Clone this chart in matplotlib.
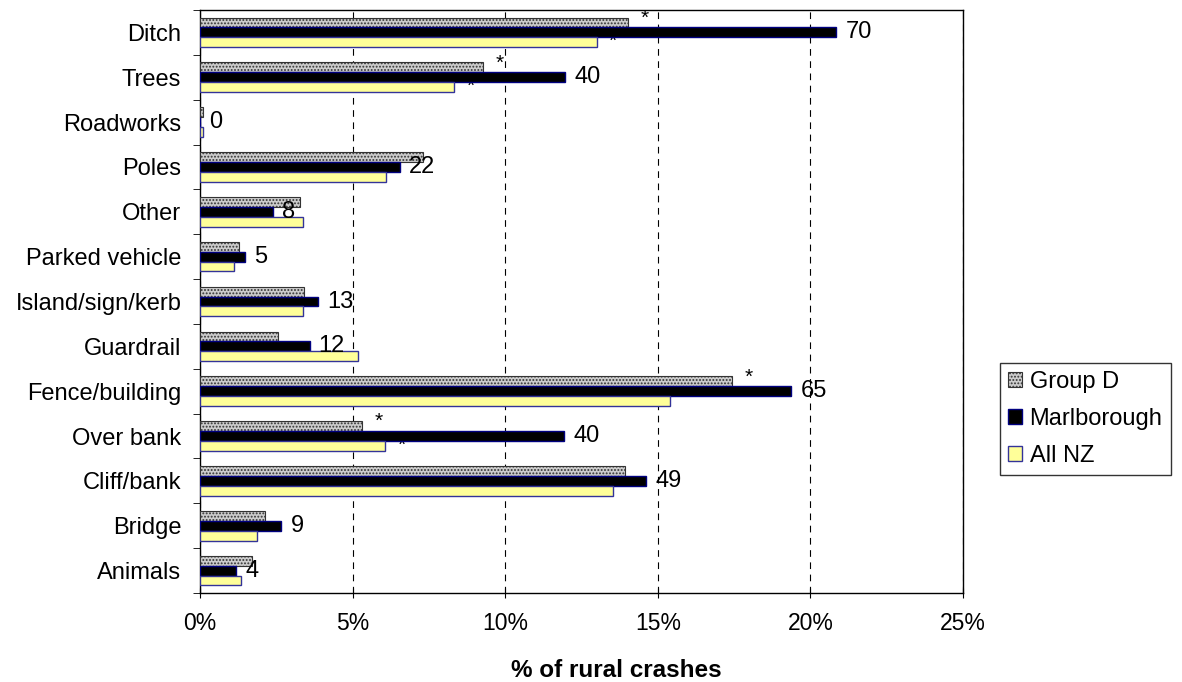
import numpy as np
import matplotlib
matplotlib.use('Agg')
from matplotlib import pyplot as plt
from matplotlib.ticker import FuncFormatter, MultipleLocator

plt.rcParams['font.family'] = ['Liberation Sans', 'DejaVu Sans']
plt.rcParams['hatch.color'] = '#555555'
plt.rcParams['hatch.linewidth'] = 0.9

# categories, top to bottom
categories = ['Ditch', 'Trees', 'Roadworks', 'Poles', 'Other', 'Parked vehicle',
              'Island/sign/kerb', 'Guardrail', 'Fence/building', 'Over bank',
              'Cliff/bank', 'Bridge', 'Animals']
group_d = [14.03, 9.28, 0.1, 7.31, 3.28, 1.28, 3.41, 2.56, 17.44, 5.31, 13.93, 2.13, 1.72]
marlborough = [20.85, 11.97, 0.0, 6.56, 2.39, 1.48, 3.87, 3.59, 19.38, 11.93, 14.62, 2.67, 1.18]
all_nz = [13.0, 8.33, 0.1, 6.1, 3.38, 1.11, 3.38, 5.18, 15.41, 6.07, 13.54, 1.87, 1.34]
marl_counts = [70, 40, 0, 22, 8, 5, 13, 12, 65, 40, 49, 9, 4]
# significance markers
star_g = ['Ditch', 'Trees', 'Fence/building', 'Over bank']
star_nz = ['Ditch', 'Trees', 'Over bank']

fig = plt.figure(figsize=(11.82, 6.82), dpi=100)
ax = fig.add_axes([200/1182, 1-593/682, 763/1182, 583/682])

n = len(categories)
pos = np.arange(n)[::-1]   # Ditch on top
h = 0.22

ax.barh(pos + h, group_d, height=h, color='#cccccc', edgecolor='#333333',
        hatch='.....', linewidth=0.8, label='Group D', zorder=3)
ax.barh(pos, marlborough, height=h, color='black', edgecolor='#000080',
        linewidth=1.0, label='Marlborough', zorder=3)
ax.barh(pos - h, all_nz, height=h, color='#ffff99', edgecolor='#333399',
        linewidth=1.0, label='All NZ', zorder=3)

for p, v, c in zip(pos, marlborough, marl_counts):
    ax.text(v + 0.3, p, str(c), va='center', ha='left', fontsize=17, zorder=5)

for cat, p, v in zip(categories, pos, group_d):
    if cat in star_g:
        ax.text(v + 0.4, p + h + 0.1, '*', ha='left', va='center', fontsize=15, zorder=5)
for cat, p, v in zip(categories, pos, all_nz):
    if cat in star_nz:
        ax.text(v + 0.4, p - h + 0.02, '*', ha='left', va='center', fontsize=15, zorder=2)

ax.set_xlim(0, 25)
ax.set_ylim(-0.5, n - 0.5)
ax.xaxis.set_major_locator(MultipleLocator(5))
ax.xaxis.set_major_formatter(FuncFormatter(lambda x, p: '%d%%' % x))
ax.grid(axis='x', color='black', linestyle=(0, (6, 5)), linewidth=0.8, zorder=0)

ax.set_yticks(pos)
ax.set_yticklabels(categories)
ax.set_yticks(np.arange(n + 1) - 0.5, minor=True)
ax.tick_params(axis='y', which='major', length=0, labelsize=17, pad=13.5)
ax.tick_params(axis='y', which='minor', length=5, direction='out')
ax.tick_params(axis='x', which='major', length=7, direction='inout', labelsize=16.5, pad=10)

ax.set_xlabel('% of rural crashes', fontsize=17.5, fontweight='bold')
ax.xaxis.set_label_coords(0.545, -0.113)

for s in ax.spines.values():
    s.set_linewidth(1.0)

leg = fig.legend(loc='upper left', bbox_to_anchor=(1000/1182, 1-363/682),
                 fontsize=17, frameon=True, fancybox=False, edgecolor='black',
                 handlelength=0.6, handleheight=0.6, handletextpad=0.3,
                 labelspacing=0.62, borderpad=0.35, borderaxespad=0)
leg.get_frame().set_linewidth(1.0)

fig.savefig('out.png', dpi=100)
